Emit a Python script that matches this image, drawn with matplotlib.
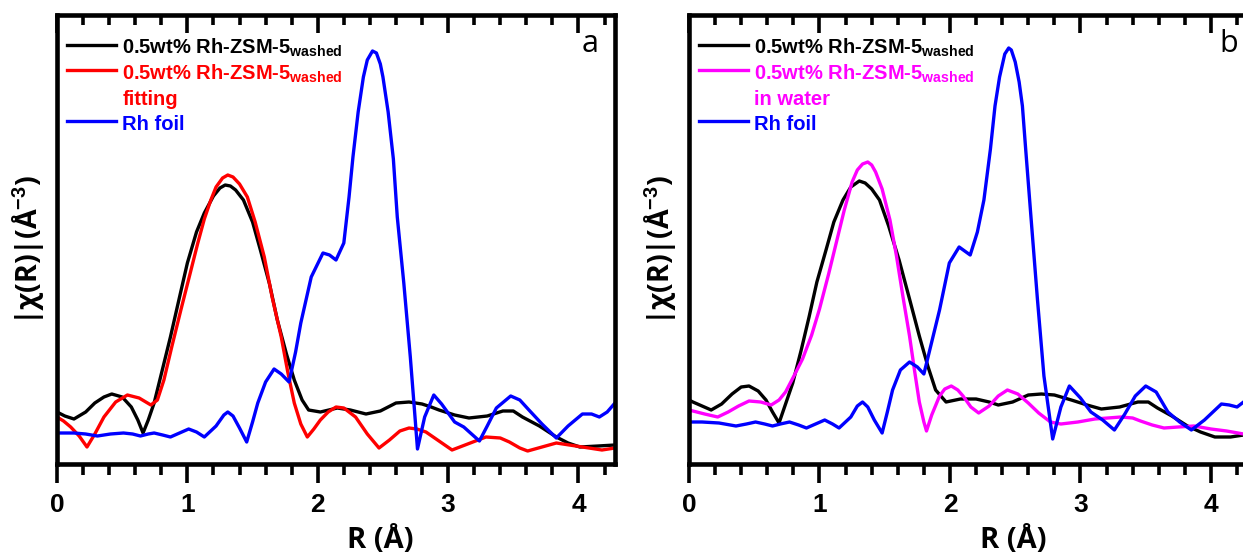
import matplotlib
matplotlib.use("Agg")
import numpy as np
import matplotlib.pyplot as plt
from matplotlib.lines import Line2D

# ==== fonts ====
plt.rcParams['font.family'] = 'Liberation Sans'
plt.rcParams['font.weight'] = 'bold'
plt.rcParams['mathtext.fontset'] = 'custom'
plt.rcParams['mathtext.rm'] = 'Liberation Sans:bold'
plt.rcParams['mathtext.it'] = 'Liberation Sans:bold'
plt.rcParams['mathtext.bf'] = 'Liberation Sans:bold'

# ==== data (R in Angstrom, |chi(R)| arbitrary units) ====
# panel a
a_black_r = [0.0, 0.06, 0.13, 0.22, 0.29, 0.36, 0.42, 0.50, 0.57, 0.62, 0.66, 0.70, 0.745, 0.80, 0.87,
             0.94, 1.0, 1.07, 1.13, 1.20, 1.25, 1.29, 1.33, 1.37, 1.43, 1.50, 1.56, 1.63, 1.69, 1.76,
             1.82, 1.88, 1.93, 2.02, 2.15, 2.25, 2.37, 2.48, 2.60, 2.70, 2.80, 2.87, 2.93, 3.05, 3.16,
             3.30, 3.42, 3.50, 3.57, 3.70, 3.83, 3.92, 4.01, 4.15, 4.28]
a_black_y = [50, 46, 43, 50, 59, 65, 68, 65, 55, 42, 29, 42, 59, 88, 125,
             165, 199, 230, 249, 266, 274, 277, 276, 272, 262, 240, 212, 178, 142, 108,
             82, 62, 52, 50, 54, 52, 48, 51, 59, 60, 58, 55, 52, 47, 44,
             46, 51, 51, 45, 36, 25, 19, 15, 16, 17]

a_red_r = [0.0, 0.05, 0.105, 0.17, 0.23, 0.29, 0.36, 0.45, 0.54, 0.63, 0.72, 0.77, 0.82, 0.88, 0.95,
           1.02, 1.08, 1.13, 1.18, 1.22, 1.27, 1.31, 1.35, 1.40, 1.46, 1.52, 1.59, 1.65, 1.72, 1.77,
           1.82, 1.87, 1.92, 1.97, 2.02, 2.08, 2.14, 2.20, 2.29, 2.38, 2.47, 2.55, 2.63, 2.70, 2.76,
           2.83, 2.93, 3.03, 3.15, 3.29, 3.40, 3.47, 3.55, 3.61, 3.72, 3.83, 3.93, 4.03, 4.18, 4.28]
a_red_y = [45, 41, 35, 26, 15, 28, 45, 60, 67, 64, 57, 62, 82, 115, 152,
           188, 219, 243, 262, 275, 284, 287, 285, 278, 265, 240, 205, 165, 125, 90,
           59, 38, 25, 33, 42, 50, 55, 54, 45, 28, 14, 22, 31, 34, 33,
           30, 21, 12, 18, 25, 24, 20, 14, 11, 15, 19, 17, 15, 12, 14]

a_blue_r = [0.0, 0.13, 0.22, 0.31, 0.41, 0.51, 0.58, 0.64, 0.70, 0.745, 0.81, 0.87, 0.94, 1.01, 1.07,
            1.13, 1.22, 1.28, 1.31, 1.35, 1.40, 1.455, 1.50, 1.54, 1.60, 1.665, 1.72, 1.78, 1.83, 1.87,
            1.95, 2.04, 2.09, 2.14, 2.20, 2.24, 2.27, 2.31, 2.35, 2.38, 2.42, 2.45, 2.48, 2.50, 2.54,
            2.58, 2.61, 2.66, 2.71, 2.74, 2.765, 2.82, 2.89, 2.95, 3.05, 3.12, 3.18, 3.24, 3.30, 3.37,
            3.48, 3.55, 3.62, 3.72, 3.83, 3.92, 4.03, 4.10, 4.16, 4.22, 4.28]
a_blue_y = [29, 29, 28, 26, 28, 29, 28, 26, 28, 29, 27, 25, 29, 33, 30,
            25, 36, 47, 50, 46, 34, 20, 40, 59, 80, 93, 88, 80, 110, 139,
            185, 209, 207, 202, 219, 265, 305, 350, 385, 402, 411, 409, 398, 385, 350,
            303, 245, 179, 105, 55, 13, 45, 67, 58, 40, 35, 28, 21, 36, 54,
            66, 62, 52, 38, 24, 36, 48, 48, 45, 50, 59]

# panel b
b_black_r = [0.0, 0.03, 0.10, 0.17, 0.25, 0.33, 0.40, 0.46, 0.53, 0.59, 0.64, 0.69, 0.74, 0.795, 0.86,
             0.92, 0.98, 1.05, 1.11, 1.18, 1.24, 1.305, 1.35, 1.40, 1.46, 1.53, 1.61, 1.69, 1.765, 1.83,
             1.89, 1.97, 2.08, 2.20, 2.30, 2.37, 2.48, 2.60, 2.70, 2.80, 2.93, 3.05, 3.16, 3.30, 3.44,
             3.52, 3.59, 3.70, 3.82, 3.92, 4.03, 4.15, 4.25]
b_black_y = [62, 60, 56, 52, 58, 68, 75, 76, 71, 62, 50, 39, 58, 79, 112,
             145, 180, 212, 240, 262, 275, 281, 279, 273, 262, 236, 202, 163, 126, 96,
             72, 60, 63, 63, 60, 57, 60, 67, 68, 67, 62, 57, 53, 55, 60,
             60, 54, 46, 36, 30, 25, 25, 27]

b_magenta_r = [0.0, 0.03, 0.12, 0.22, 0.30, 0.38, 0.46, 0.55, 0.63, 0.69, 0.74, 0.80, 0.87, 0.94, 1.0,
               1.07, 1.13, 1.19, 1.25, 1.29, 1.33, 1.37, 1.40, 1.43, 1.48, 1.54, 1.59, 1.64, 1.69, 1.73,
               1.765, 1.80, 1.82, 1.86, 1.92, 1.96, 2.01, 2.06, 2.10, 2.16, 2.22, 2.30, 2.37, 2.44, 2.52,
               2.60, 2.68, 2.77, 2.85, 2.98, 3.11, 3.31, 3.40, 3.46, 3.55, 3.64, 3.75, 3.87, 4.0, 4.12,
               4.25]
b_magenta_y = [52, 51, 48, 45, 50, 56, 61, 60, 57, 62, 70, 85, 103, 127, 153,
               188, 220, 252, 280, 292, 298, 300, 297, 290, 273, 242, 206, 165, 126, 90,
               60, 40, 31, 47, 66, 73, 76, 72, 66, 55, 49, 56, 66, 72, 68,
               59, 49, 40, 38, 40, 43, 45, 44, 41, 37, 34, 35, 36, 33, 31,
               28]

b_blue_r = [0.0, 0.1, 0.23, 0.36, 0.44, 0.51, 0.58, 0.64, 0.70, 0.77, 0.84, 0.90, 0.97, 1.04, 1.10,
            1.15, 1.24, 1.29, 1.33, 1.37, 1.42, 1.48, 1.52, 1.56, 1.62, 1.69, 1.75, 1.80, 1.86, 1.92,
            1.995, 2.07, 2.155, 2.21, 2.26, 2.31, 2.345, 2.38, 2.42, 2.45, 2.47, 2.50, 2.53, 2.555, 2.58,
            2.62, 2.67, 2.72, 2.787, 2.85, 2.915, 3.0, 3.08, 3.17, 3.26, 3.34, 3.42, 3.50, 3.58, 3.67,
            3.76, 3.85, 3.95, 4.08, 4.14, 4.20, 4.25]
b_blue_y = [40, 40, 39, 36, 38, 40, 38, 36, 38, 40, 37, 34, 38, 42, 38,
            34, 45, 56, 60, 55, 42, 29, 50, 72, 92, 100, 95, 88, 120, 152,
            199, 215, 207, 230, 262, 313, 356, 385, 408, 414, 412, 400, 380, 356, 313,
            246, 163, 86, 23, 55, 76, 64, 50, 42, 32, 48, 66, 76, 70, 50,
            40, 32, 42, 58, 57, 55, 60]

sample_label = "0.5wt% Rh-ZSM-5$_{\\rm washed}$"
x_max = 4.28
major_ticks = [0, 1, 2, 3, 4]
minor_ticks = [round(v, 1) for v in np.arange(0.2, x_max, 0.2) if abs(v - round(v)) > 1e-6]

W, H = 1243, 558
fig = plt.figure(figsize=(W / 100, H / 100), dpi=100)

# axes boxes in pixels: left, bottom spine, width, height
ax_a = fig.add_axes([57 / W, (H - 464) / H, 558 / W, 449 / H])
ax_b = fig.add_axes([689 / W, (H - 464) / H, 558.5 / W, 449 / H])

lw = 2.4


def style_axes(ax, letter, lx, ly):
    ax.set_xlim(0, x_max)
    ax.set_ylim(-2, 447)
    ax.set_yticks([])
    ax.set_xticks(major_ticks)
    ax.tick_params(axis='x', which='both', length=0, labelsize=19, pad=21)
    for s in ax.spines.values():
        s.set_linewidth(3.3)
    # tick marks drawn as short segments: out below the frame, in from the top
    tr = ax.get_xaxis_transform()
    tick_kw = dict(transform=tr, clip_on=False, color='black', lw=2.6, zorder=4)
    ax.vlines(major_ticks, 0, -0.042, **tick_kw)
    ax.vlines(minor_ticks, 0, -0.024, **tick_kw)
    ax.vlines(major_ticks, 1, 1 - 0.040, **tick_kw)
    ax.vlines(minor_ticks, 1, 1 - 0.022, **tick_kw)
    ax.set_xlabel("R (Å)", fontsize=21, fontweight='bold', family='Open Sans')
    ax.xaxis.label.set_verticalalignment('center')
    ax.xaxis.set_label_coords(0.58, -0.171)
    ax.set_ylabel("|χ(R)|(Å$^{-3}$)", fontsize=20.5, fontweight='bold', family='Open Sans')
    ax.yaxis.label.set_verticalalignment('center')
    ax.yaxis.set_label_coords(-0.052, 0.477)
    ax.text(lx, ly, letter, transform=ax.transAxes, ha='center', va='center',
            fontsize=22, fontweight='normal', family='Open Sans')


# === Panel a ===
ax_a.plot(a_black_r, a_black_y, color='black', lw=lw)
ax_a.plot(a_red_r, a_red_y, color='#ff0000', lw=lw)
ax_a.plot(a_blue_r, a_blue_y, color='#0000ff', lw=lw)
style_axes(ax_a, 'a', 0.955, 0.935)

# === Panel b ===
ax_b.plot(b_black_r, b_black_y, color='black', lw=lw)
ax_b.plot(b_magenta_r, b_magenta_y, color='#ff00ff', lw=lw)
ax_b.plot(b_blue_r, b_blue_y, color='#0000ff', lw=lw)
style_axes(ax_b, 'b', 0.967, 0.935)


def add_legend(ax, c2, extra):
    handles = [Line2D([], [], color='black', lw=lw),
               Line2D([], [], color=c2, lw=lw),
               Line2D([], [], color=c2, lw=0),
               Line2D([], [], color='#0000ff', lw=lw)]
    labels = [sample_label, sample_label, extra, "Rh foil"]
    ax.legend(handles, labels, loc='upper left', bbox_to_anchor=(0.018, 0.955),
              frameon=False, borderpad=0, borderaxespad=0, handlelength=2.45,
              handleheight=1.45, handletextpad=0.3, labelspacing=0.08,
              labelcolor='linecolor',
              prop={'family': 'Liberation Sans', 'weight': 'bold', 'size': 14.5})


add_legend(ax_a, '#ff0000', "fitting")
add_legend(ax_b, '#ff00ff', "in water")

plt.savefig("out.png", dpi=100)
plt.close()
